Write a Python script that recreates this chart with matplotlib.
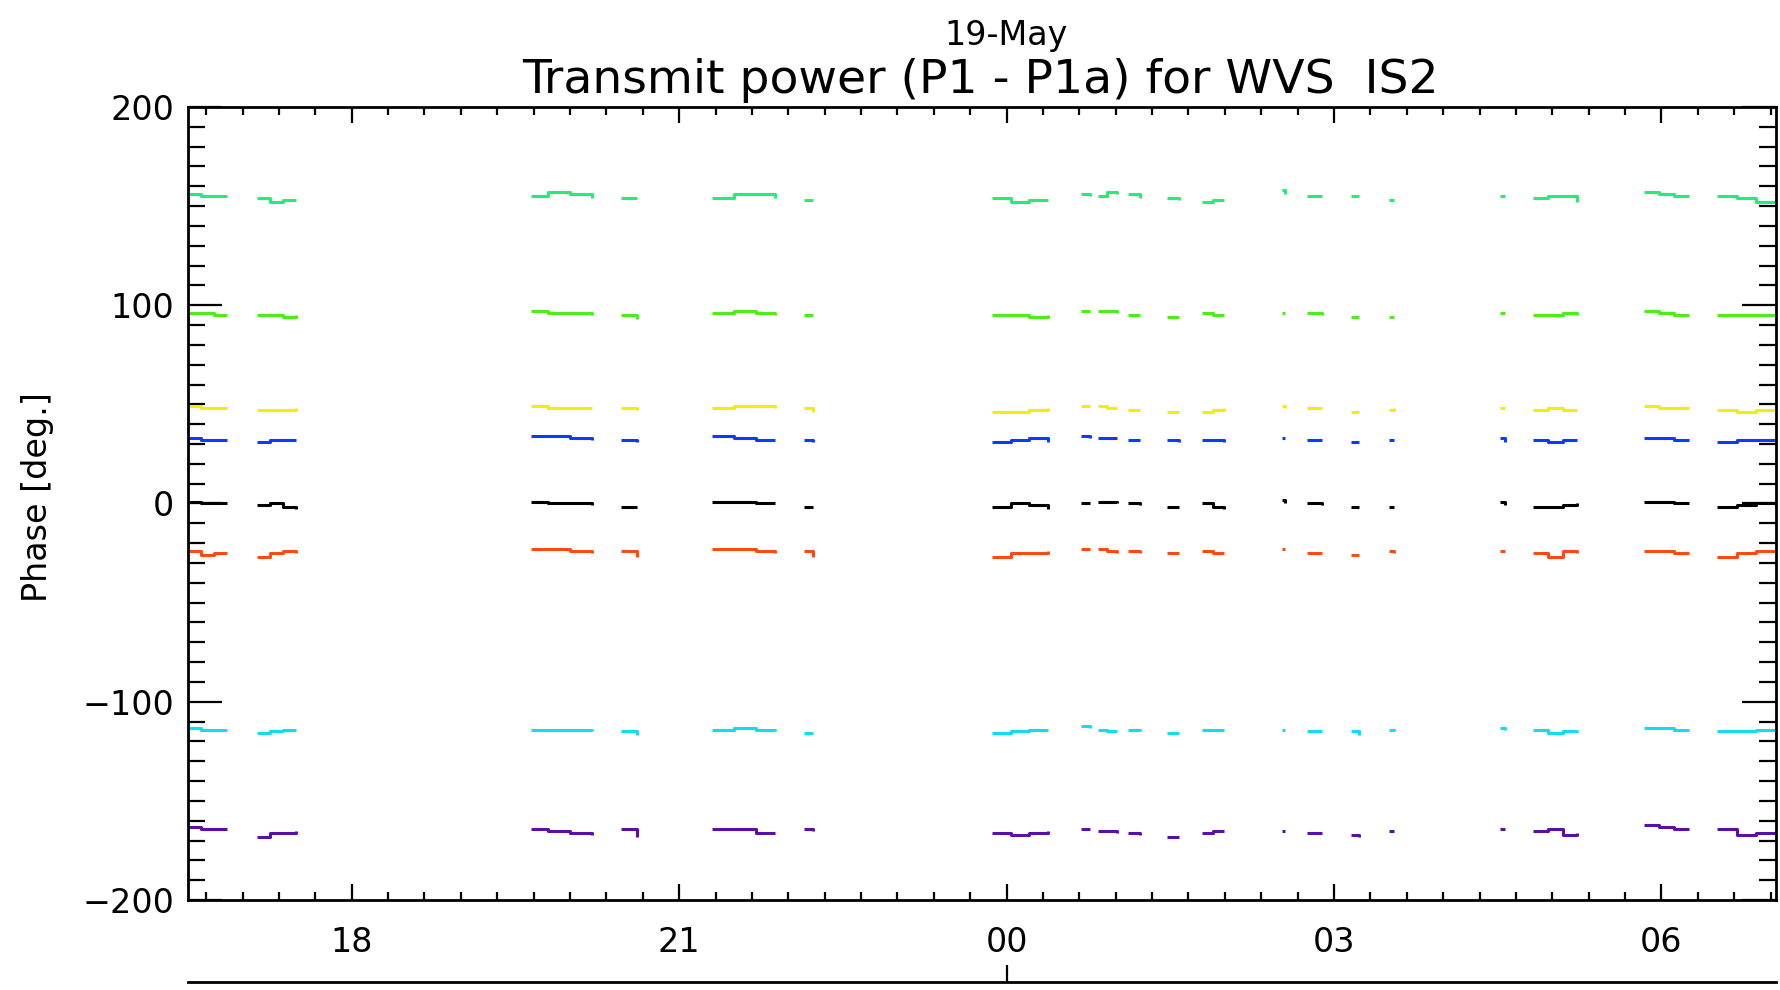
import matplotlib
matplotlib.use("Agg")
import matplotlib.pyplot as plt
from matplotlib.ticker import FixedLocator, MultipleLocator


# Vremena (sati od ponoći 19. maja) za svaki neprekidni segment merenja.
SEGMENT_TIMES = [
    [-7.50, -7.38, -7.26, -7.14],
    [-6.87, -6.75, -6.63, -6.51],
    [-4.36, -4.20, -4.00, -3.80],
    [-3.53, -3.39],
    [-2.70, -2.50, -2.30, -2.12],
    [-1.86, -1.77],
    [-0.13, 0.04, 0.21, 0.38],
    [0.68, 0.76],
    [0.84, 0.92, 1.01],
    [1.11, 1.22],
    [1.47, 1.58],
    [1.79, 1.89, 1.99],
    [2.52, 2.55],
    [2.75, 2.89],
    [3.16, 3.23],
    [3.50, 3.55],
    [4.52, 4.57],
    [4.82, 4.96, 5.10, 5.23],
    [5.84, 5.98, 6.12, 6.25],
    [6.51, 6.69, 6.87, 7.05],
]

PHASE_155 = [
    [156, 155, 155, 155], [154, 152, 153, 153], [155, 157, 156, 154], [154, 154],
    [154, 156, 156, 154], [153, 153], [154, 152, 153, 153], [156, 155],
    [155, 157, 156], [156, 154], [154, 153], [152, 153, 153], [158, 156],
    [155, 155], [155, 155], [153, 153], [155, 155], [154, 155, 155, 152],
    [157, 156, 155, 155], [155, 154, 152, 153],
]
PHASE_95 = [
    [96, 96, 95, 95], [95, 95, 94, 95], [97, 96, 96, 95], [95, 93],
    [96, 97, 96, 95], [95, 95], [95, 95, 94, 95], [97, 97],
    [97, 97, 96], [95, 95], [94, 94], [96, 95, 95], [96, 96],
    [96, 95], [94, 94], [94, 94], [96, 96], [95, 95, 96, 95],
    [97, 96, 95, 95], [95, 95, 95, 95],
]
PHASE_47 = [
    [49, 48, 48, 48], [47, 47, 47, 48], [49, 48, 48, 48], [48, 47],
    [48, 49, 49, 48], [48, 46], [46, 46, 47, 48], [49, 49],
    [49, 48, 48], [47, 47], [46, 46], [46, 47, 48], [49, 48],
    [48, 48], [46, 46], [47, 48], [48, 48], [47, 48, 47, 47],
    [49, 48, 48, 48], [47, 46, 47, 48],
]
PHASE_31 = [
    [33, 32, 32, 32], [31, 32, 32, 32], [34, 34, 33, 32], [32, 31],
    [34, 33, 32, 32], [32, 31], [31, 32, 33, 31], [34, 33],
    [33, 33, 33], [32, 32], [32, 31], [32, 32, 31], [33, 33],
    [32, 32], [31, 31], [32, 32], [33, 31], [32, 31, 32, 32],
    [33, 33, 32, 32], [31, 32, 32, 31],
]
PHASE_0 = [
    [1, 0, 0, 0], [-1, 0, -2, -3], [1, 0, 0, -1], [-2, -2],
    [1, 1, 0, 0], [-2, -2], [-2, 0, -1, -3], [0, 0],
    [1, 1, 0], [0, -1], [-2, -2], [0, -2, -3], [2, 0],
    [0, -1], [-2, -2], [-2, -2], [1, -1], [-2, -2, -1, 0],
    [1, 1, 0, 0], [-2, -1, 0, -2],
]
PHASE_M25 = [
    [-24, -26, -25, -25], [-27, -25, -24, -25], [-23, -23, -24, -25], [-24, -27],
    [-23, -23, -24, -25], [-24, -27], [-27, -25, -25, -24], [-23, -23],
    [-23, -24, -25], [-24, -25], [-25, -25], [-24, -25, -25], [-23, -23],
    [-25, -25], [-26, -26], [-24, -25], [-24, -24], [-25, -27, -24, -25],
    [-24, -24, -25, -25], [-27, -25, -24, -24],
]
PHASE_M115 = [
    [-113, -114, -114, -114], [-116, -115, -114, -114], [-114, -114, -114, -115], [-115, -117],
    [-114, -113, -114, -115], [-116, -116], [-116, -115, -114, -114], [-112, -113],
    [-114, -115, -115], [-114, -115], [-116, -116], [-114, -114, -114], [-114, -114],
    [-115, -115], [-115, -117], [-114, -115], [-113, -114], [-114, -116, -115, -114],
    [-113, -113, -114, -114], [-115, -115, -114, -113],
]
PHASE_M165 = [
    [-163, -164, -164, -164], [-168, -166, -166, -165], [-164, -165, -166, -167], [-164, -168],
    [-164, -164, -166, -166], [-164, -165], [-166, -167, -166, -165], [-164, -164],
    [-165, -165, -166], [-166, -167], [-168, -168], [-166, -165, -165], [-165, -165],
    [-166, -166], [-167, -168], [-165, -165], [-164, -164], [-165, -164, -167, -166],
    [-162, -163, -164, -164], [-164, -167, -166, -165],
]

SERIES_COLORS = ["#22ee77", "#4cee18", "#f4ee00", "#0a3cff",
                 "#000000", "#ff4a14", "#12dcf2", "#5a10a8"]

HOUR_TICKS = [-6, -3, 0, 3, 6]
HOUR_LABELS = ["18", "21", "00", "03", "06"]
PHASE_TICKS = [-200, -100, 0, 100, 200]

TITLE = "Transmit power (P1 - P1a) for WVS  IS2"
DATE_LABEL = "19-May"

W, H = 1780, 990


def main():
    plt.rcParams["font.family"] = "DejaVu Sans"
    fig = plt.figure(figsize=(W / 100, H / 100), dpi=100)
    ax = fig.add_axes([188 / W, 1 - 900 / H, (1776 - 188) / W, (900 - 107) / H])

    all_series = [PHASE_155, PHASE_95, PHASE_47, PHASE_31,
                  PHASE_0, PHASE_M25, PHASE_M115, PHASE_M165]
    for values, color in zip(all_series, SERIES_COLORS):
        for times, seg in zip(SEGMENT_TIMES, values):
            ax.plot(times, seg, drawstyle="steps-post", color=color,
                    lw=2.2, solid_capstyle="butt")

    ax.set_xlim(-7.5, 7.05)
    ax.set_ylim(-200, 200)

    ax.xaxis.set_major_locator(FixedLocator(HOUR_TICKS))
    ax.set_xticklabels(HOUR_LABELS)
    ax.xaxis.set_minor_locator(MultipleLocator(1 / 3))
    ax.yaxis.set_major_locator(FixedLocator(PHASE_TICKS))
    ax.yaxis.set_minor_locator(MultipleLocator(10))

    ax.tick_params(axis="both", which="both", direction="in",
                   top=True, right=True, width=1.6, labelsize=24)
    ax.tick_params(axis="x", which="major", length=11.5, pad=19)
    ax.tick_params(axis="x", which="minor", length=5.8)
    ax.tick_params(axis="y", which="major", length=24.5, pad=10)
    ax.tick_params(axis="y", which="minor", length=12.2)
    for spine in ax.spines.values():
        spine.set_linewidth(2)

    # Krajnje oznake na y osi pomerene su ka unutra, kao u IDL-u.
    for tick in ax.yaxis.get_major_ticks():
        if tick.get_loc() == 200:
            tick.label1.set_va("top")
        elif tick.get_loc() == -200:
            tick.label1.set_va("bottom")

    # Donja osa sa datumom (samo crta i podeok na ponoći).
    date_ax = fig.add_axes([188 / W, 1 - 982 / H, (1776 - 188) / W, 0.0001])
    date_ax.set_xlim(ax.get_xlim())
    for name in ["top", "left", "right"]:
        date_ax.spines[name].set_visible(False)
    date_ax.spines["bottom"].set_linewidth(2)
    date_ax.set_yticks([])
    date_ax.set_xticks([0])
    date_ax.set_xticklabels([""])
    date_ax.tick_params(axis="x", direction="in", length=12.2, width=1.6)
    date_ax.patch.set_visible(False)

    fig.text(980 / W, 1 - 93 / H, TITLE, ha="center", va="baseline", fontsize=34)
    fig.text(1006 / W, 1 - 45 / H, DATE_LABEL, ha="center", va="baseline", fontsize=24)
    fig.text(38 / W, 1 - 497 / H, "Phase [deg.]", rotation=90,
             ha="center", va="center", fontsize=24)

    fig.savefig("out.png", dpi=100)
    plt.close(fig)


if __name__ == "__main__":
    main()
